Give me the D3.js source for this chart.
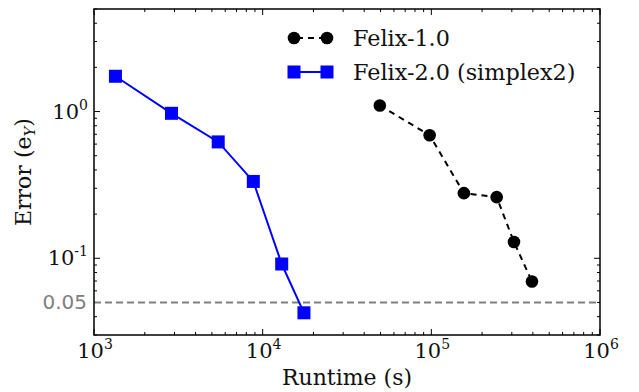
<!DOCTYPE html>
<html>
<head>
<meta charset="utf-8">
<script src="https://cdn.jsdelivr.net/npm/d3@7"></script>
<style>
  body { margin: 0; background: #fff; }
  text { font-family: "DejaVu Serif", serif; }
</style>
</head>
<body>
<svg id="chart" width="639" height="392"></svg>
<script>
// data
const felix1Runtime = [49500, 97700, 156000, 244000, 309000, 395000];
const felix1Error   = [1.10, 0.69, 0.278, 0.261, 0.129, 0.0695];
const felix2Runtime = [1340, 2880, 5450, 8800, 12970, 17570];
const felix2Error   = [1.74, 0.973, 0.621, 0.334, 0.0914, 0.0425];
const seriesNames = ["Felix-1.0", "Felix-2.0 (simplex2)"];
const xMajorExp = [3, 4, 5, 6];
const yMajorExp = [0, -1];
const refLine = 0.05;

const svg = d3.select("#chart");
const mLeft = 94, mRight = 600, mTop = 9, mBottom = 335;

const x = d3.scaleLog().domain([1e3, 1e6]).range([mLeft, mRight]);
const y = d3.scaleLog().domain([0.03, 5]).range([mBottom, mTop]);

// minor tick values
const xMinor = [], yMinor = [];
for (let e = 3; e < 6; e++) for (let m = 2; m <= 9; m++) xMinor.push(m * Math.pow(10, e));
for (let e = -2; e < 1; e++) for (let m = 2; m <= 9; m++) {
  const v = m * Math.pow(10, e);
  if (v >= 0.03 && v <= 5) yMinor.push(v);
}

// ticks (inward, on all four sides)
const ticks = svg.append("g").attr("stroke", "#000").attr("stroke-width", 1);
xMinor.forEach(v => {
  ticks.append("line").attr("x1", x(v)).attr("x2", x(v)).attr("y1", mBottom).attr("y2", mBottom - 3);
  ticks.append("line").attr("x1", x(v)).attr("x2", x(v)).attr("y1", mTop).attr("y2", mTop + 3);
});
xMajorExp.forEach(e => {
  const v = Math.pow(10, e);
  ticks.append("line").attr("x1", x(v)).attr("x2", x(v)).attr("y1", mBottom).attr("y2", mBottom - 6);
  ticks.append("line").attr("x1", x(v)).attr("x2", x(v)).attr("y1", mTop).attr("y2", mTop + 6);
});
yMinor.forEach(v => {
  ticks.append("line").attr("y1", y(v)).attr("y2", y(v)).attr("x1", mLeft).attr("x2", mLeft + 3);
  ticks.append("line").attr("y1", y(v)).attr("y2", y(v)).attr("x1", mRight).attr("x2", mRight - 3);
});
yMajorExp.forEach(e => {
  const v = Math.pow(10, e);
  ticks.append("line").attr("y1", y(v)).attr("y2", y(v)).attr("x1", mLeft).attr("x2", mLeft + 6);
  ticks.append("line").attr("y1", y(v)).attr("y2", y(v)).attr("x1", mRight).attr("x2", mRight - 6);
});

// reference line at 0.05
svg.append("line")
  .attr("x1", mLeft).attr("x2", mRight)
  .attr("y1", y(refLine)).attr("y2", y(refLine))
  .attr("stroke", "#808080").attr("stroke-width", 2)
  .attr("stroke-dasharray", "7,4");

// frame
svg.append("rect")
  .attr("x", mLeft).attr("y", mTop)
  .attr("width", mRight - mLeft).attr("height", mBottom - mTop)
  .attr("fill", "none").attr("stroke", "#000").attr("stroke-width", 1.5);

// tick labels
function powLabel(g, e, px, py, anchor) {
  const t = g.append("text").attr("x", px).attr("y", py)
    .attr("text-anchor", anchor).attr("font-size", 21).attr("fill", "#111");
  t.append("tspan").text("10");
  t.append("tspan").attr("dy", -9).attr("font-size", 14).text(e);
  return t;
}
const labels = svg.append("g");
xMajorExp.forEach(e => powLabel(labels, e, x(Math.pow(10, e)) + 1, 358, "middle"));
yMajorExp.forEach(e => powLabel(labels, e, mLeft - 6, y(Math.pow(10, e)) + 7, "end"));
labels.append("text")
  .attr("x", mLeft - 7).attr("y", y(refLine) + 7)
  .attr("text-anchor", "end").attr("font-size", 20).attr("fill", "#808080")
  .style("font-family", "'DejaVu Sans', sans-serif")
  .text("0.05");

// axis titles
svg.append("text")
  .attr("x", (mLeft + mRight) / 2).attr("y", 385)
  .attr("text-anchor", "middle").attr("font-size", 22).attr("fill", "#111")
  .text("Runtime (s)");
const yl = svg.append("text")
  .attr("transform", `translate(31, ${(mTop + mBottom) / 2}) rotate(-90)`)
  .attr("text-anchor", "middle").attr("font-size", 22).attr("fill", "#111");
yl.append("tspan").text("Error (e");
yl.append("tspan").attr("dy", 4).attr("font-size", 15).attr("font-style", "italic").text("Y");
yl.append("tspan").attr("dy", -4).text(")");

// series
const f1 = felix1Runtime.map((r, i) => [r, felix1Error[i]]);
const f2 = felix2Runtime.map((r, i) => [r, felix2Error[i]]);
const line = d3.line().x(d => x(d[0])).y(d => y(d[1]));

svg.append("path").datum(f1).attr("d", line)
  .attr("fill", "none").attr("stroke", "#000").attr("stroke-width", 2)
  .attr("stroke-dasharray", "6,5");
svg.append("g").selectAll("circle").data(f1).join("circle")
  .attr("cx", d => x(d[0])).attr("cy", d => y(d[1])).attr("r", 6.3).attr("fill", "#000");

svg.append("path").datum(f2).attr("d", line)
  .attr("fill", "none").attr("stroke", "#0000ff").attr("stroke-width", 2);
svg.append("g").selectAll("rect").data(f2).join("rect")
  .attr("x", d => x(d[0]) - 6.5).attr("y", d => y(d[1]) - 6.5)
  .attr("width", 13).attr("height", 13).attr("fill", "#0000ff");

// legend
const lg = svg.append("g");
const ly = [38, 72];
lg.append("line").attr("x1", 294).attr("x2", 327).attr("y1", ly[0]).attr("y2", ly[0])
  .attr("stroke", "#000").attr("stroke-width", 2).attr("stroke-dasharray", "6,5")
  .attr("stroke-dashoffset", -14);
[294, 327].forEach(cx => lg.append("circle").attr("cx", cx).attr("cy", ly[0]).attr("r", 6.3).attr("fill", "#000"));
lg.append("line").attr("x1", 294).attr("x2", 327).attr("y1", ly[1]).attr("y2", ly[1])
  .attr("stroke", "#0000ff").attr("stroke-width", 2);
[294, 327].forEach(cx => lg.append("rect").attr("x", cx - 6.5).attr("y", ly[1] - 6.5)
  .attr("width", 13).attr("height", 13).attr("fill", "#0000ff"));
seriesNames.forEach((n, i) => lg.append("text")
  .attr("x", 353).attr("y", ly[i] + 8).attr("font-size", 22.3).attr("fill", "#111").text(n));
</script>
</body>
</html>
